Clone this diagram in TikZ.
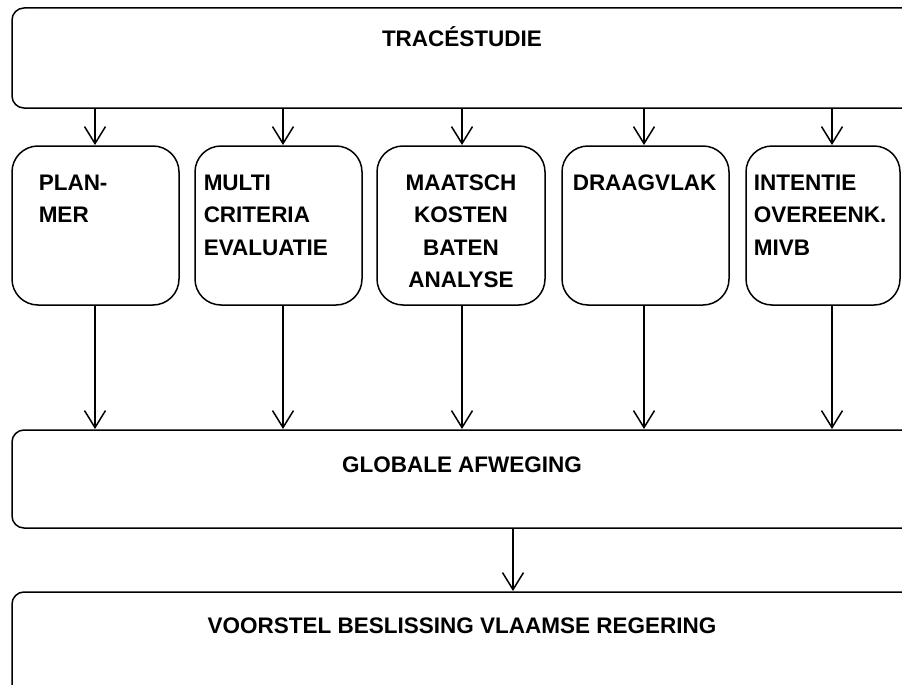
\documentclass[tikz,border=0pt]{standalone}
\usepackage{fontspec}
\setmainfont{Liberation Sans}
\usetikzlibrary{arrows.meta}
\begin{document}
\begin{tikzpicture}[x=1pt,y=-1pt,
  line width=1.5pt,
  widebox/.style={draw, rounded corners=12pt},
  stagebox/.style={draw, rounded corners=26pt},
  lbl/.style={inner sep=0pt, font=\fontsize{22.5}{32.5}\selectfont\bfseries},
  flow/.style={-{Straight Barb[length=17pt,width=21pt]}}]
\useasboundingbox (0,0) rectangle (902,685);
\clip (0,0) rectangle (902,685);

% wide boxes (top, summary, conclusion)
\draw[widebox] (12,8) rectangle (930,108);
\draw[widebox] (12,430) rectangle (930,528);
\draw[widebox] (12,592) rectangle (930,720);

\node[lbl, anchor=base] (tTrace) at (462,47) {TRACÉSTUDIE};
\node[lbl, anchor=base] (tGlob) at (462,472) {GLOBALE AFWEGING};
\node[lbl, anchor=base] (tVoor) at (462,633) {VOORSTEL BESLISSING VLAAMSE REGERING};

% five parallel studies
\draw[stagebox] (12,146) rectangle (179,305);
\draw[stagebox] (195,146) rectangle (362,305);
\draw[stagebox] (377,146) rectangle (545,305);
\draw[stagebox] (562,146) rectangle (729,305);
\draw[stagebox] (746,146) rectangle (900,305);

% first baseline at y=190, cap height about 16
\node[lbl, anchor=north west, align=left] (tPlan) at (38,174) {PLAN-\\MER};
\node[lbl, anchor=north west, align=left] (tMulti) at (203,174) {MULTI\\CRITERIA\\EVALUATIE};
\node[lbl, anchor=north, align=center] (tMkba) at (461,174) {MAATSCH\\KOSTEN\\BATEN\\ANALYSE};
\node[lbl, anchor=north west, align=left] (tDraag) at (572,174) {DRAAGVLAK};
\node[lbl, anchor=north west, align=left] (tInt) at (753,174) {INTENTIE\\OVEREENK.\\MIVB};

% connectors
\foreach \i/\xx in {a/95,b/283,c/462,d/644,e/832}{
  \coordinate (up\i) at (\xx,108);
  \coordinate (tin\i) at (\xx,145);
  \coordinate (tout\i) at (\xx,305);
  \coordinate (gin\i) at (\xx,429);
  \draw[flow] (up\i) -- (tin\i);
  \draw[flow] (tout\i) -- (gin\i);
}
\coordinate (gout) at (513,528);
\coordinate (vin) at (513,591);
\draw[flow] (gout) -- (vin);
\end{tikzpicture}
\end{document}
